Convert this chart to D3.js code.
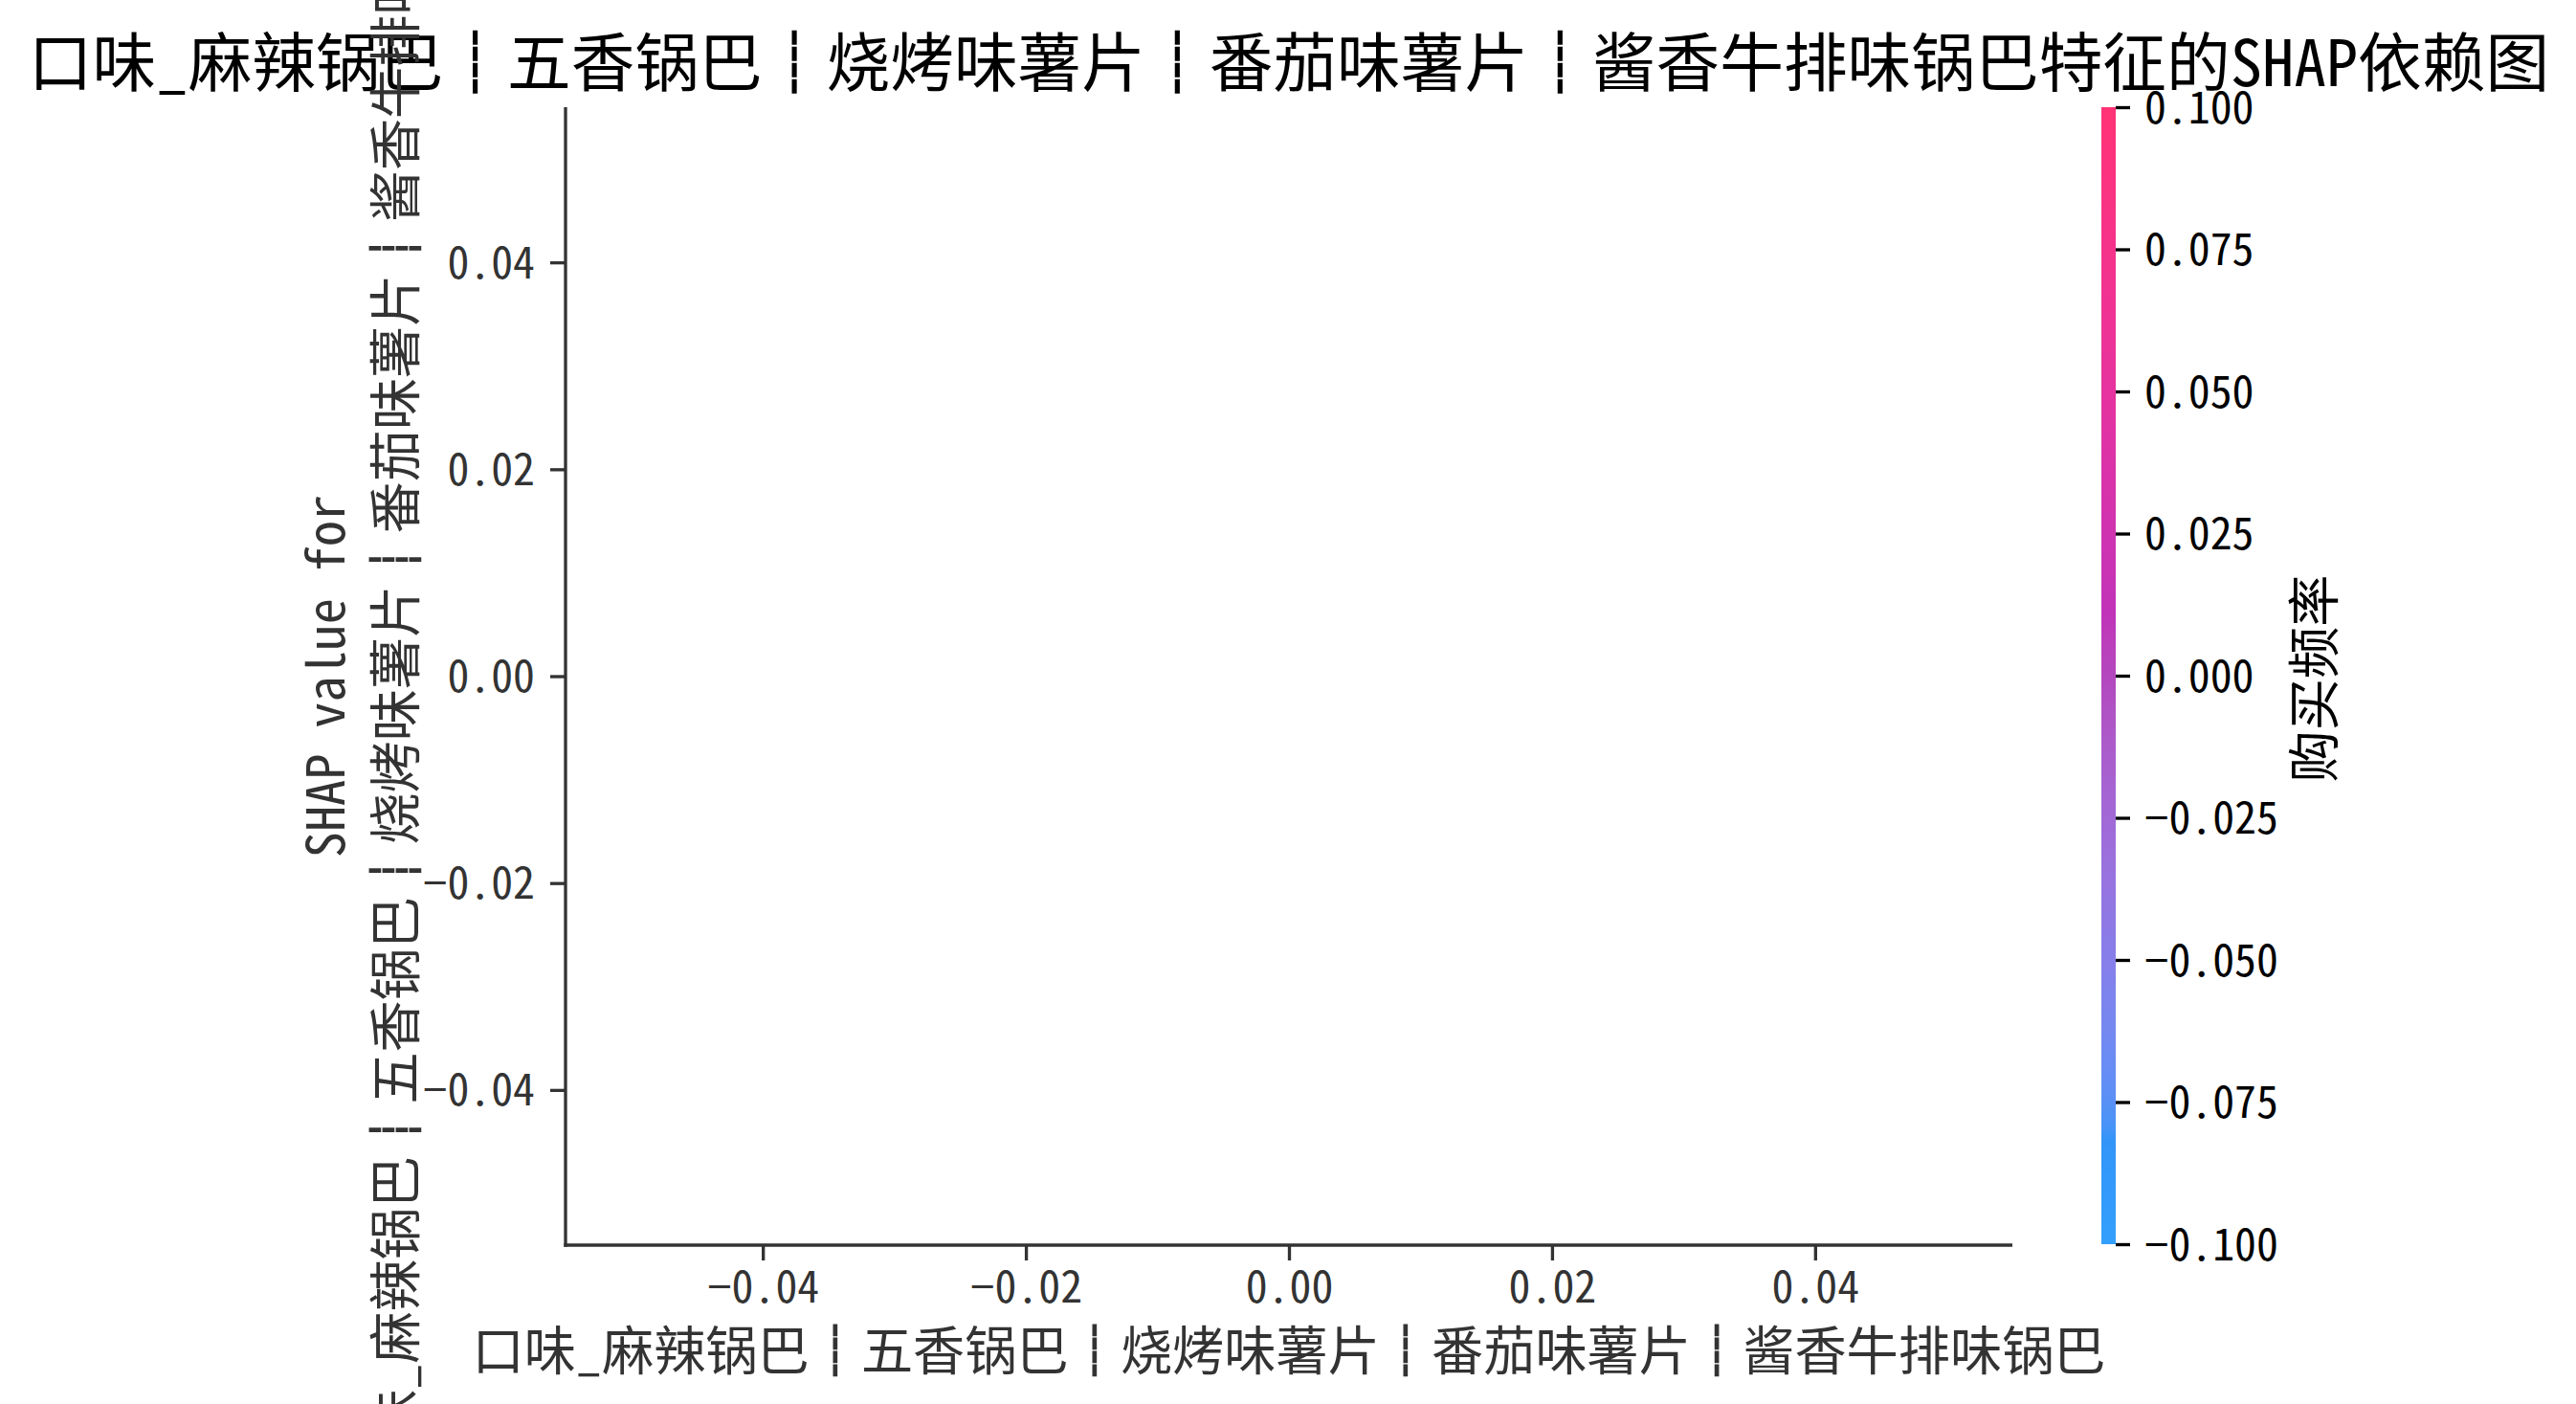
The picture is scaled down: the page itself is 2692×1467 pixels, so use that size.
<!DOCTYPE html>
<html>
<head>
<meta charset="utf-8">
<script src="https://cdn.jsdelivr.net/npm/d3@7"></script>
<style>
  html, body { margin: 0; padding: 0; background: #ffffff; }
  svg { display: block; }
  text { font-family: "Noto Sans Mono CJK SC", "Noto Sans CJK SC", sans-serif; }
</style>
</head>
<body>
<div id="chart"></div>
<script>
// ---------------- data ----------------
const features = ["口味_麻辣锅巴", "五香锅巴", "烧烤味薯片", "番茄味薯片", "酱香牛排味锅巴"];
const colorFeature = "购买频率";
const titleSuffix = "特征的SHAP依赖图";
const yLabelPrefix = "SHAP value for";
const xTicks = [-0.04, -0.02, 0.00, 0.02, 0.04];
const yTicks = [-0.04, -0.02, 0.00, 0.02, 0.04];
const xDomain = [-0.055, 0.055];
const yDomain = [-0.055, 0.055];
const cbTicks = [-0.1, -0.075, -0.05, -0.025, 0.0, 0.025, 0.05, 0.075, 0.1];
const cbDomain = [-0.1, 0.1];
// dependence points (feature value, shap value, colour value): none in this plot
const pointX = [];
const pointY = [];
const pointC = [];

// ---------------- layout ----------------
const W = 2692, H = 1467;
const ax = { left: 591, right: 2103, top: 112, bottom: 1301 };
const cb = { left: 2196, width: 15, top: 112, bottom: 1300 };
const SEP = "┊";
const minus = s => s.replace("-", "\u2212");

const svg = d3.select("#chart").append("svg")
  .attr("width", W).attr("height", H).attr("viewBox", `0 0 ${W} ${H}`);

const x = d3.scaleLinear().domain(xDomain).range([ax.left, ax.right]);
const y = d3.scaleLinear().domain(yDomain).range([ax.bottom, ax.top]);

// writes feature names joined by the separator, separators drawn heavier
function writeFeatures(textSel, suffix) {
  features.forEach((f, i) => {
    if (i > 0) textSel.append("tspan").attr("font-weight", 900).attr("stroke", "currentColor")
      .attr("stroke-width", 2.5).text(SEP);
    textSel.append("tspan").text(f);
  });
  if (suffix) textSel.append("tspan").text(suffix);
}

// ---- SHAP red_blue colormap (LCH interpolation) ----
const nsteps = 100;
const blueL = 54, blueC = 70, blueH = 4.6588 * 180 / Math.PI;
const redL = 54, redC = 90, redH = (0.35470565 + 2 * Math.PI) * 180 / Math.PI;
const lMid = 40;
const cmapStops = d3.range(nsteps).map(i => {
  const t = i / (nsteps - 1);
  let l;
  if (i < nsteps / 2) l = blueL + (lMid - blueL) * (i / (nsteps / 2 - 1));
  else l = lMid + (redL - lMid) * ((i - nsteps / 2) / (nsteps / 2 - 1));
  const c = blueC + (redC - blueC) * t;
  const h = (blueH + (redH - blueH) * t) % 360;
  return { t, color: d3.hcl(h, c, l).formatHex() };
});
const cmap = t => {
  const idx = Math.max(0, Math.min(nsteps - 1, Math.round(t * (nsteps - 1))));
  return cmapStops[idx].color;
};
const cScale = d3.scaleLinear().domain(cbDomain).range([0, 1]).clamp(true);

// ---- points (empty) ----
svg.append("g").selectAll("circle")
  .data(d3.range(pointX.length))
  .join("circle")
  .attr("cx", i => x(pointX[i]))
  .attr("cy", i => y(pointY[i]))
  .attr("r", 8)
  .attr("fill", i => cmap(cScale(pointC[i])));

// ---- axes ----
const axisColor = "#333333";
const tickFont = 45.8;

const gx = svg.append("g")
  .attr("transform", `translate(0,${ax.bottom})`)
  .call(d3.axisBottom(x).tickValues(xTicks).tickSize(16).tickSizeOuter(0)
    .tickFormat(d => minus(d3.format(".2f")(d))));
gx.select(".domain").attr("stroke", axisColor).attr("stroke-width", 3.33)
  .attr("d", `M${ax.left - 1.66},0H${ax.right}`);
gx.selectAll(".tick line").attr("stroke", axisColor).attr("stroke-width", 3.33);
gx.selectAll(".tick text").attr("fill", axisColor).attr("font-size", tickFont)
  .attr("y", 60).attr("dy", null);

const gy = svg.append("g")
  .attr("transform", `translate(${ax.left},0)`)
  .call(d3.axisLeft(y).tickValues(yTicks).tickSize(16).tickPadding(16).tickSizeOuter(0)
    .tickFormat(d => minus(d3.format(".2f")(d))));
gy.select(".domain").attr("stroke", axisColor).attr("stroke-width", 3.33)
  .attr("d", `M0,${ax.top}V${ax.bottom + 1.66}`);
gy.selectAll(".tick line").attr("stroke", axisColor).attr("stroke-width", 3.33);
gy.selectAll(".tick text").attr("fill", axisColor).attr("font-size", tickFont)
  .attr("dy", "0.35em");

// ---- labels ----
const title = svg.append("text")
  .attr("x", (ax.left + ax.right) / 2).attr("y", 90)
  .attr("text-anchor", "middle").attr("font-size", 66.7)
  .attr("fill", "#000").style("color", "#000");
writeFeatures(title, titleSuffix);

const xl = svg.append("text")
  .attr("x", (ax.left + ax.right) / 2).attr("y", 1431)
  .attr("text-anchor", "middle").attr("font-size", 54.2)
  .attr("fill", axisColor).style("color", axisColor);
writeFeatures(xl);

const yc = (ax.top + ax.bottom) / 2;
svg.append("text")
  .attr("transform", `translate(360,${yc}) rotate(-90)`)
  .attr("text-anchor", "middle").attr("font-size", 54.2).attr("fill", axisColor)
  .text(yLabelPrefix);
const yl = svg.append("text")
  .attr("transform", `translate(433,${yc}) rotate(-90)`)
  .attr("text-anchor", "middle").attr("font-size", 54.2)
  .attr("fill", axisColor).style("color", axisColor);
writeFeatures(yl);

// ---- colorbar ----
const defs = svg.append("defs");
const grad = defs.append("linearGradient").attr("id", "cbgrad")
  .attr("x1", 0).attr("y1", 1).attr("x2", 0).attr("y2", 0);
grad.selectAll("stop").data(cmapStops).join("stop")
  .attr("offset", d => d.t).attr("stop-color", d => d.color);

const cy = d3.scaleLinear().domain(cbDomain).range([cb.bottom, cb.top]);
svg.append("rect")
  .attr("x", cb.left).attr("y", cy(cbDomain[1]))
  .attr("width", cb.width).attr("height", cy(cbDomain[0]) - cy(cbDomain[1]))
  .attr("fill", "url(#cbgrad)").attr("opacity", 0.8);

const gc = svg.append("g")
  .attr("transform", `translate(${cb.left + cb.width},0)`)
  .call(d3.axisRight(cy).tickValues(cbTicks).tickSize(15).tickPadding(15).tickSizeOuter(0)
    .tickFormat(d => minus(d3.format(".3f")(d))));
gc.select(".domain").remove();
gc.selectAll(".tick line").attr("stroke", "#000").attr("stroke-width", 3.33);
gc.selectAll(".tick text").attr("fill", "#000").attr("font-size", tickFont)
  .attr("dy", "0.35em");

svg.append("text")
  .attr("transform", `translate(2438,709) rotate(-90)`)
  .attr("text-anchor", "middle").attr("font-size", 54.2).attr("fill", "#000")
  .text(colorFeature);
</script>
</body>
</html>
